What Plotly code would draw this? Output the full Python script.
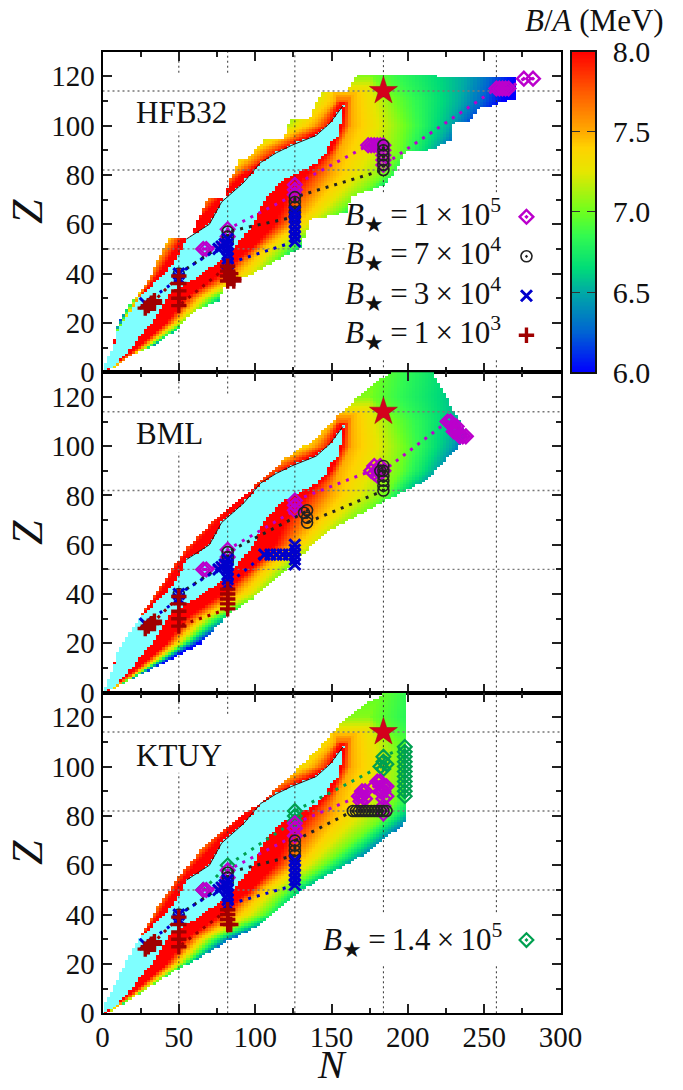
import numpy as np
import plotly.graph_objects as go

# ---------- read-off data ----------
N_MAGIC = [50, 82, 126, 184, 258]
Z_MAGIC = [50, 82, 114]
STAR_N = [184]
STAR_Z = [114]
PANEL_NAMES = ["HFB32", "BML", "KTUY"]
CB_TICKS = [6.0, 6.5, 7.0, 7.5, 8.0]

# Anchor rows of the B/A field: N at which each B/A level is met.
# The cells between these rows are filled by interpolation (the field is too dense to type cell by cell).
iso_Z = [0, 5, 10, 20, 30, 40, 50, 60, 70, 80, 90, 100, 110, 120, 130]
pr_60 = [-4, -2, 1, 11, 17, 22, 27, 36, 45, 55, 65, 75, 90, 100, 110]
pr_65 = [-3, -1, 2, 12, 19, 25, 31, 40, 50, 60, 75, 90, 110, 125, 130]
pr_70 = [-2, 0, 3, 13, 21, 28, 36, 45, 55, 68, 85, 115, 130, 150, 160]
pr_75 = [-1, 1, 4, 14, 22.7, 31.4, 40, 52, 66, 84, 104, 138, 153, 155, 165]
pr_80 = [0, 2, 5, 15, 24, 37, 48, 60, 76, 92, 118, 149, 156, 158, 170]
nr_80 = [2, 13, 23, 42, 54, 78, 97, 113, 120, 133, 150, 157, 159, 162, 171]
nr_75 = [3, 14.5, 26, 47, 62, 88, 103, 125, 138, 150, 155, 163, 163, 165, 172]
nr_70 = [4, 16, 29, 53, 71, 105, 121, 145, 165, 185, 195, 198, 192, 176, 180]
nr_65 = [5, 17, 31, 57, 80, 118, 132, 160, 180, 200, 218, 228, 235, 238, 240]
nr_60 = [6, 18, 34, 62, 88, 128, 145, 175, 195, 215, 235, 245, 262, 270, 275]
peak_Z = [0, 105, 110, 115, 120, 130]
peak_BA = [9, 9, 7.7, 7.3, 7.05, 6.95]

# Region beyond the colour range (cyan)
lake_Z = [0, 3, 10, 16, 20, 27, 31, 40, 47, 54, 60, 69, 77, 85, 89, 92, 96, 101, 106, 108]
lake_l = [0, 1, 7.4, 9.6, 14, 20.5, 25, 41, 50, 55, 70, 78, 92.6, 103.5, 114, 124, 140, 149, 155, 157.5]
lake_r = [1, 9, 19.4, 26, 33, 39, 43, 65, 82, 91, 99, 105, 116.6, 140, 147.6, 148, 155, 156, 157, 158]

# Outer edges of each mass table
hfb_top = 120
hfb_lZ = [0, 5, 10, 15, 20, 25, 30, 32, 40, 44, 50, 53.5, 54, 54.5, 70, 70.5, 78, 86, 86.5, 94, 94.5, 102, 102.5, 113, 113.5, 120]
hfb_lN = [0, 3, 7, 8.5, 11, 16, 21, 24, 32.5, 35, 40, 43.5, 43.5, 57, 68.5, 80, 84, 90, 95, 105.7, 119, 123, 135, 142.8, 160, 166.8]
hfb_rZ = [0, 1.5, 7.6, 11, 17.7, 23.8, 29, 34, 37.4, 42.8, 50.3, 61.8, 64.5, 71.3, 74, 76, 79.4, 88.9, 90.2, 93.6, 101, 101.7, 107, 107.8, 111, 119.4, 119.6, 120]
hfb_rN = [2, 7.4, 20.5, 34.7, 50, 57.6, 76, 79.5, 90, 107, 130, 136, 160, 163.5, 176.7, 184.7, 190, 198.4, 215, 228, 230, 241, 247, 253, 270, 270, 219, 219]

bml_top = 130
bml_lZ = [0, 2.8, 10, 15.7, 26.6, 33.3, 44, 53, 60.4, 70, 77, 87.5, 95.6, 102.4, 114.6, 125.5, 129.5, 130]
bml_lN = [0, 2, 7, 9.6, 20.5, 27, 39, 49, 57.6, 73, 88, 105.7, 121, 138, 158, 177.7, 188.6, 188.6]
bml_rZ = [0, 1.5, 7.6, 11.7, 19.8, 31.3, 37.4, 47, 52.3, 64.5, 77.4, 85.5, 100.4, 104.5, 112.6, 130]
bml_rN = [2, 7.4, 25, 40, 64, 81.7, 97, 114, 125, 145, 184, 210.5, 234.5, 239, 232, 216]

ktuy_top = 130
ktuy_lZ = [0, 4, 10, 16, 28, 43, 55, 67.6, 78.5, 86.6, 96, 107, 118.4, 126, 129, 130]
ktuy_lN = [0, 2, 7, 12, 21.6, 36, 50, 66, 88, 105.7, 123, 140.6, 158, 173, 184, 184]
ktuy_rZ = [0, 1.2, 6.6, 12.7, 22, 29, 35.8, 47.3, 52, 58, 63.5, 71, 74.4, 77.8, 78, 130]
ktuy_rN = [2, 7.4, 20.5, 35.8, 62, 81.7, 103.5, 125, 136, 153.7, 169, 185, 193, 199.5, 199.5, 199.5]

# Abundance-peak nuclei per B_star
red_lowN = [28, 30, 32, 34, 34, 50, 50, 50, 50, 50]
red_lowZ = [26, 27, 28, 28, 29, 39, 36, 33, 30, 27]
hfb_redN = [82, 82, 82, 82, 84, 84, 86, 86]
hfb_redZ = [43, 41, 39, 37, 40, 38, 38, 37]
bml_redN = [82, 82, 82, 82, 82]
bml_redZ = [34, 36, 38, 40, 42]
ktuy_redN = [82, 82, 82, 82, 84]
ktuy_redZ = [42, 40, 38, 36, 36]

blue_lowN = [28, 50, 50, 76, 78, 80, 82, 82, 82, 82, 82, 82]
blue_lowZ = [28, 38, 40, 50, 51, 52, 54, 52, 50, 48, 46, 44]
hfb_blueN = [126, 126, 126, 126, 126, 126, 126]
hfb_blueZ = [53, 55, 57, 59, 61, 63, 65]
bml_blueN = [106, 110, 114, 118, 122, 126, 126, 126, 126, 126]
bml_blueZ = [56, 56, 56, 56, 56, 52, 54, 56, 58, 60]
ktuy_blueN = [126, 126, 126, 126, 126, 126]
ktuy_blueZ = [52, 54, 56, 58, 60, 62]

black_lowN = [50, 82, 82, 82]
black_lowZ = [40, 53, 55, 57]
hfb_blackN = [126, 126, 126, 126, 126, 184, 184, 184, 184, 184, 184]
hfb_blackZ = [63, 65, 67, 69, 71, 82, 84, 86, 88, 90, 92]
bml_blackN = [132, 134, 134, 134, 184, 184, 184, 184, 184, 184, 182]
bml_blackZ = [73, 74, 71, 69, 82, 84, 86, 88, 90, 92, 90]
ktuy_blackN = [126, 126, 126, 126, 164, 166, 168, 170, 172, 174, 176, 178, 180, 182, 184, 186]
ktuy_blackZ = [64, 66, 68, 70, 82, 82, 82, 82, 82, 82, 82, 82, 82, 82, 82, 82]

pur_lowN = [66, 68, 80, 82, 82]
pur_lowZ = [50, 50, 52, 55, 58]
hfb_purN = [126, 126, 126, 174, 176, 178, 180, 182, 184, 184, 184, 184, 184, 258, 260, 262, 264, 266, 276, 282]
hfb_purZ = [72, 74, 76, 92, 92, 92, 92, 92, 92, 90, 88, 86, 84, 115, 115, 115, 115, 115, 119, 119]
bml_purN = [126, 126, 126, 176, 178, 178, 180, 180, 182, 184, 226, 228, 230, 230, 232, 232, 234, 236, 238]
bml_purZ = [74, 76, 78, 90, 92, 89, 90, 88, 92, 90, 110, 110, 108, 106, 108, 106, 104, 104, 104]
ktuy_purN = [126, 126, 126, 168, 169, 170, 170, 172, 172, 178, 180, 182, 184, 186, 184, 184, 184, 184, 182, 186]
ktuy_purZ = [72, 75, 77, 88, 86, 88, 90, 87, 90, 92, 94, 94, 92, 92, 90, 87, 84, 81, 90, 88]

green_N = [66, 82, 126, 126, 126, 182, 184, 184, 186, 184, 198, 198, 198, 198, 198, 198, 198, 198, 198, 198, 198]
green_Z = [50, 60, 78, 80, 82, 100, 99, 102, 101, 104, 108, 106, 104, 102, 100, 98, 96, 94, 92, 90, 88]

# Legend keys
key_N = [277.7, 277.7, 277.7, 277.7]
key_Z = [63, 47, 31, 15]
key2_N = [277.7]
key2_Z = [29.7]
LEG_TEXT = ["1\u2009\u00d7\u200910<sup>5</sup>", "7\u2009\u00d7\u200910<sup>4</sup>",
            "3\u2009\u00d7\u200910<sup>4</sup>", "1\u2009\u00d7\u200910<sup>3</sup>"]
LEG2_TEXT = "1.4\u2009\u00d7\u200910<sup>5</sup>"

# ---------- styles ----------
W, H = 683, 1090
FONT = "Liberation Serif"
XL, XR = 102.5, 560.5
PANELS = [(51.5, 372.3), (372.3, 692.6), (692.6, 1013.3)]
COLORSCALE = [[0.0, "rgb(0,0,255)"], [0.125, "rgb(0,100,210)"], [0.25, "rgb(0,170,165)"],
              [0.325, "rgb(0,220,120)"], [0.425, "rgb(50,250,80)"], [0.5, "rgb(110,255,30)"],
              [0.625, "rgb(230,230,0)"], [0.7, "rgb(255,210,0)"], [0.75, "rgb(255,170,0)"],
              [0.875, "rgb(255,90,0)"], [1.0, "rgb(255,0,0)"]]
C_RED, C_BLUE, C_BLACK, C_PUR, C_GREEN = "#a00000", "#0000cc", "#222222", "#bb00cc", "#00a050"
S_DIAM, S_CIRC, S_X, S_PLUS = 10.5, 11, 11, 11

N_GRID = np.arange(0, 300, 2.0)
Z_GRID = np.arange(0, 131, 1.0)


def fields(l_z, l_n, r_z, r_n, top):
    """B/A field on the grid, from the anchor rows, cut to the panel's edges."""
    cols = [pr_60, pr_65, pr_70, pr_75, pr_80, nr_80, nr_75, nr_70, nr_65, nr_60]
    vals = [6, 6.5, 7, 7.5, 8, 8, 7.5, 7, 6.5, 6]
    out, lake = [], []
    for z in Z_GRID:
        pos = [np.interp(z, iso_Z, c) for c in cols]
        row = np.interp(N_GRID, np.maximum.accumulate(pos), vals)
        row = np.minimum(row, np.interp(z, peak_Z, peak_BA))
        lo, hi = np.interp(z, l_z, l_n), np.interp(z, r_z, r_n)
        inside = (N_GRID >= lo) & (N_GRID <= hi) & (z <= top)
        row = np.where(inside, row, np.nan)
        in_lake = inside & (z <= lake_Z[-1]) & (N_GRID >= np.interp(z, lake_Z, lake_l)) & (N_GRID <= np.interp(z, lake_Z, lake_r))
        out.append(row)
        lake.append(np.where(in_lake, 1.0, np.nan))
    return out, lake


fig = go.Figure()
layout = dict(width=W, height=H, margin=dict(l=0, r=0, t=0, b=0, autoexpand=False), paper_bgcolor="white",
              plot_bgcolor="white", showlegend=False, font=dict(family=FONT, color="#111"))

edges = [(hfb_lZ, hfb_lN, hfb_rZ, hfb_rN, hfb_top),
         (bml_lZ, bml_lN, bml_rZ, bml_rN, bml_top),
         (ktuy_lZ, ktuy_lN, ktuy_rZ, ktuy_rN, ktuy_top)]
series = [
    dict(red=(hfb_redN, hfb_redZ), blue=(hfb_blueN, hfb_blueZ), black=(hfb_blackN, hfb_blackZ), pur=(hfb_purN, hfb_purZ)),
    dict(red=(bml_redN, bml_redZ), blue=(bml_blueN, bml_blueZ), black=(bml_blackN, bml_blackZ), pur=(bml_purN, bml_purZ)),
    dict(red=(ktuy_redN, ktuy_redZ), blue=(ktuy_blueN, ktuy_blueZ), black=(ktuy_blackN, ktuy_blackZ), pur=(ktuy_purN, ktuy_purZ)),
]
# Segments of the dotted magic-number lines left out behind text labels
v_breaks = [[(97.5, 121.4), (5.5, 73)], [(97.5, 121.4)], [(97.5, 121.4), (20, 41)]]


def path_trace(n, z, color, symbol, size, lw, ax):
    return go.Scatter(x=n, y=z, xaxis="x" + ax, yaxis="y" + ax, mode="lines+markers", cliponaxis=False,
                      line=dict(color=color, width=3, dash="3px,6px"),
                      marker=dict(color=color, symbol=symbol, size=size, line=dict(color=color, width=lw)))


for i, (top_px, bot_px) in enumerate(PANELS):
    ax = str(i + 1)
    z, lake = fields(*edges[i])
    fig.add_trace(go.Heatmap(x=N_GRID, y=Z_GRID, z=z, xaxis="x" + ax, yaxis="y" + ax, colorscale=COLORSCALE,
                             zmin=6, zmax=8, showscale=False, hoverinfo="skip"))
    fig.add_trace(go.Heatmap(x=N_GRID, y=Z_GRID, z=lake, xaxis="x" + ax, yaxis="y" + ax,
                             colorscale=[[0, "#7fffff"], [1, "#7fffff"]], showscale=False, hoverinfo="skip"))
    fig.add_trace(go.Scatter(x=lake_l[9:], y=lake_Z[9:], xaxis="x" + ax, yaxis="y" + ax, mode="lines",
                             line=dict(color="#3a1010", width=1), hoverinfo="skip"))

    # magic-number lines
    for n in N_MAGIC:
        ys, xs = [0], [n]
        if n in (50, 82):
            gaps = [v_breaks[i][0]]
        elif n in (184, 258) and i != 1:
            gaps = [v_breaks[i][1]]
        else:
            gaps = []
        for a, b in gaps:
            ys += [a, None, b]
            xs += [n, None, n]
        ys.append(130)
        xs.append(n)
        fig.add_trace(go.Scatter(x=xs, y=ys, xaxis="x" + ax, yaxis="y" + ax, mode="lines", hoverinfo="skip",
                                 line=dict(color="#333", width=1, dash="2px,3px")))
    for zm in Z_MAGIC:
        xend = 159 if (i == 0 and zm == 50) else 300
        fig.add_trace(go.Scatter(x=[0, xend], y=[zm, zm], xaxis="x" + ax, yaxis="y" + ax, mode="lines", hoverinfo="skip",
                                 line=dict(color="#777", width=1.4, dash="2px,3px")))

    s = series[i]
    if i == 2:
        fig.add_trace(path_trace(green_N, green_Z, C_GREEN, "diamond-open-dot", S_DIAM, 2.2, ax))
    fig.add_trace(path_trace(pur_lowN + s["pur"][0], pur_lowZ + s["pur"][1], C_PUR, "diamond-open-dot", S_DIAM, 2.4, ax))
    fig.add_trace(path_trace(black_lowN + s["black"][0], black_lowZ + s["black"][1], C_BLACK, "circle-open-dot", S_CIRC, 1.6, ax))
    fig.add_trace(path_trace(blue_lowN + s["blue"][0], blue_lowZ + s["blue"][1], C_BLUE, "x-thin-open", S_X, 3, ax))
    fig.add_trace(path_trace(red_lowN + s["red"][0], red_lowZ + s["red"][1], C_RED, "cross-thin-open", S_PLUS, 3.4, ax))
    fig.add_trace(go.Scatter(x=STAR_N, y=STAR_Z, xaxis="x" + ax, yaxis="y" + ax, mode="markers",
                             marker=dict(symbol="star", size=21, color="#d4001c", line=dict(color="#a00018", width=0.5))))

    axis_common = dict(showgrid=False, zeroline=False, showline=True, linecolor="#000", linewidth=2, mirror="ticks",
                       ticks="inside", tickcolor="#222", tickwidth=1.6, ticklen=9, automargin=False,
                       tickfont=dict(family=FONT, size=29, color="#111"))
    layout["xaxis" + ax] = dict(axis_common, domain=[XL / W, XR / W], range=[0, 300], anchor="y" + ax, dtick=50, tick0=0,
                                showticklabels=(i == 2), ticklabelstandoff=-3,
                                minor=dict(dtick=25, ticks="inside", ticklen=5, tickcolor="#222", tickwidth=1.6))
    layout["yaxis" + ax] = dict(axis_common, domain=[1 - bot_px / H, 1 - top_px / H], range=[0, 130], anchor="x" + ax, dtick=20, tick0=0,
                                minor=dict(dtick=10, ticks="inside", ticklen=5, tickcolor="#222", tickwidth=1.6))

# legend keys in panels 1 and 3
for sym, col, lw, sz, zk in [("diamond-open-dot", C_PUR, 2.4, S_DIAM, key_Z[0]), ("circle-open-dot", C_BLACK, 1.6, S_CIRC, key_Z[1]),
                             ("x-thin-open", C_BLUE, 3, S_X, key_Z[2]), ("cross-thin-open", C_RED, 3.4, S_PLUS, key_Z[3])]:
    fig.add_trace(go.Scatter(x=[key_N[0]], y=[zk], xaxis="x1", yaxis="y1", mode="markers",
                             marker=dict(symbol=sym, color=col, size=sz, line=dict(color=col, width=lw))))
fig.add_trace(go.Scatter(x=key2_N, y=key2_Z, xaxis="x3", yaxis="y3", mode="markers",
                         marker=dict(symbol="diamond-open-dot", color=C_GREEN, size=S_DIAM, line=dict(color=C_GREEN, width=2.2))))

# colour bar as its own small axes
cb_vals = np.linspace(6, 8, 241)
fig.add_trace(go.Heatmap(x=[0, 1], y=cb_vals, z=[[v, v] for v in cb_vals], xaxis="x4", yaxis="y4",
                         colorscale=COLORSCALE, zmin=6, zmax=8, showscale=False, hoverinfo="skip"))
layout["xaxis4"] = dict(domain=[572 / W, 595 / W], range=[0, 1], anchor="y4", showticklabels=False, ticks="", automargin=False,
                        showgrid=False, zeroline=False, showline=True, linecolor="#111", linewidth=1.6, mirror=True)
layout["yaxis4"] = dict(domain=[1 - 372.3 / H, 1 - 51.5 / H], range=[6, 8], anchor="x4", side="right", tickvals=CB_TICKS,
                        ticktext=[f"{t:.1f}" for t in CB_TICKS], ticks="inside", ticklen=8, tickwidth=1.4, tickcolor="#333",
                        mirror="ticks", showgrid=False, zeroline=False, showline=True, linecolor="#111", linewidth=1.6, automargin=False,
                        tickfont=dict(family=FONT, size=30, color="#111"), ticklabelstandoff=10)


def label(x, y, text, size, xanchor="left", **kw):
    return dict(x=x / W, y=1 - y / H, xref="paper", yref="paper", text=text, showarrow=False, xanchor=xanchor,
                yanchor="middle", font=dict(family=FONT, size=size, color="#111"), **kw)


ann = [label(594, 20, "<i>B</i>/<i>A</i> (MeV)", 31, "center")]
ann += [label(134, y, name, 31) for name, y in zip(PANEL_NAMES, [112, 433, 755])]
for t, y in zip(LEG_TEXT, [217, 256, 296, 335]):
    ann.append(label(343, y - 2, "<i>B</i><sub>\u2605</sub>\u2009=\u2009" + t, 31))
ann.append(label(321, 940, "<i>B</i><sub>\u2605</sub>\u2009=\u2009" + LEG2_TEXT, 31))
for y in [212, 533, 853]:
    ann.append(label(27, y, "<i>Z</i>", 44, "center", textangle=-90))
ann.append(label(332, 1064, "<i>N</i>", 40, "center"))
layout["annotations"] = ann

fig.update_layout(**layout)
fig.write_html("out.html", config=dict(displayModeBar=False),
               post_script="document.body.style.margin='0';document.documentElement.style.overflow='hidden';")
